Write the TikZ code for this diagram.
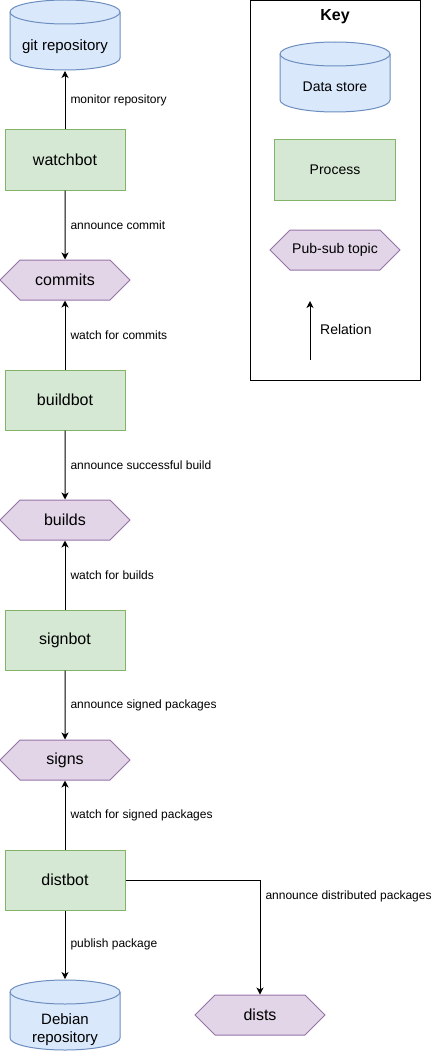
\documentclass[tikz,border=0pt]{standalone}
\usepackage{fontspec}
\setmainfont{Liberation Sans}
\usetikzlibrary{shapes.symbols,arrows.meta}

\definecolor{storefill}{HTML}{DAE8FC}
\definecolor{storeline}{HTML}{6C8EBF}
\definecolor{procfill}{HTML}{D5E8D4}
\definecolor{procline}{HTML}{82B366}
\definecolor{topicfill}{HTML}{E1D5E7}
\definecolor{topicline}{HTML}{9673A6}

\tikzset{
  datastore/.style={rectangle, minimum width=112pt, minimum height=72pt, inner sep=0pt, outer sep=0pt,
    path picture={
      \begin{scope}[shift={(path picture bounding box.center)}]
        \filldraw[draw=storeline, fill=storefill, line width=1pt] (-55,-23) -- (-55,23)
          arc[start angle=180, end angle=360, x radius=55pt, y radius=12pt] -- (55,-23)
          arc[start angle=0, end angle=180, x radius=55pt, y radius=12pt] -- cycle;
        \draw[storeline, line width=1pt] (-55,-23)
          arc[start angle=180, end angle=360, x radius=55pt, y radius=12pt];
      \end{scope}}},
  storetext/.style={yshift=-12pt, inner sep=0pt, align=center, font=\fontsize{15}{18}\selectfont},
  process/.style={rectangle, draw=procline, fill=procfill, line width=1pt,
    minimum width=120pt, minimum height=60pt, inner sep=0pt, font=\fontsize{16}{19}\selectfont},
  topic/.style={signal, signal to=east and west, signal pointer angle=90, draw=topicline,
    fill=topicfill, line width=1pt, minimum width=130pt, minimum height=40pt, inner sep=0pt,
    font=\fontsize{16}{19}\selectfont},
  relation/.style={-{Stealth[length=7pt, width=7pt, inset=2pt]}, line width=1pt},
  rellabel/.style={right, xshift=5pt, inner sep=0pt, font=\fontsize{12}{14}\selectfont}
}

\begin{document}
\begin{tikzpicture}[x=1pt, y=-1pt]
        \useasboundingbox (0,0) rectangle (434,1051);

        % key
        \node[draw, line width=1pt, minimum width=170pt, minimum height=380pt, anchor=north west] (keybox) at (250,0) {};
        \node[font=\bfseries\fontsize{16}{19}\selectfont] (keytitle) at (335,17) {Key};
        \node[datastore, label={[storetext, yshift=2pt, font=\fontsize{14}{17}\selectfont]center:Data store}] (keystore) at (335,77) {};
        \node[process, minimum width=121pt, font=\fontsize{14}{17}\selectfont] (keyproc) at (335,170) {Process};
        \node[topic, font=\fontsize{14}{17}\selectfont] (keytopic) at (335,250) {Pub-sub topic};
        \coordinate (relfrom) at (310,360);
        \coordinate (relto) at (310,301);
        \draw[relation] (relfrom) -- (relto);
        \node[anchor=west, inner sep=0pt, font=\fontsize{14}{17}\selectfont] (keyrel) at (320,329) {Relation};

        % pipeline
        \node[datastore, label={[storetext]center:git repository}] (gitrepo) at (65,35) {};
        \node[process] (watchbot) at (65,160) {watchbot};
        \node[topic] (commits) at (65,280) {commits};
        \node[process] (buildbot) at (65,400) {buildbot};
        \node[topic] (builds) at (65,520) {builds};
        \node[process] (signbot) at (65,640) {signbot};
        \node[topic] (signs) at (65,760) {signs};
        \node[process] (distbot) at (65,880) {distbot};
        \node[datastore, label={[storetext, yshift=-3pt]center:Debian\\repository}] (debrepo) at (65,1015) {};
        \node[topic] (dists) at (260,1015) {dists};

        \draw[relation] (watchbot) -- node[rellabel, midway] {monitor repository} (gitrepo);
        \draw[relation] (watchbot) -- node[rellabel, midway] {announce commit} (commits);
        \draw[relation] (buildbot) -- node[rellabel, midway] {watch for commits} (commits);
        \draw[relation] (buildbot) -- node[rellabel, midway] {announce successful build} (builds);
        \draw[relation] (signbot) -- node[rellabel, midway] {watch for builds} (builds);
        \draw[relation] (signbot) -- node[rellabel, midway] {announce signed packages} (signs);
        \draw[relation] (distbot) -- node[rellabel, midway] {watch for signed packages} (signs);
        \draw[relation] (distbot) -- node[rellabel, midway] {publish package} (debrepo);
        \draw[relation] (distbot.east) -| node[rellabel, pos=0.572] {announce distributed packages} (dists.north);

    \end{tikzpicture}
\end{document}
